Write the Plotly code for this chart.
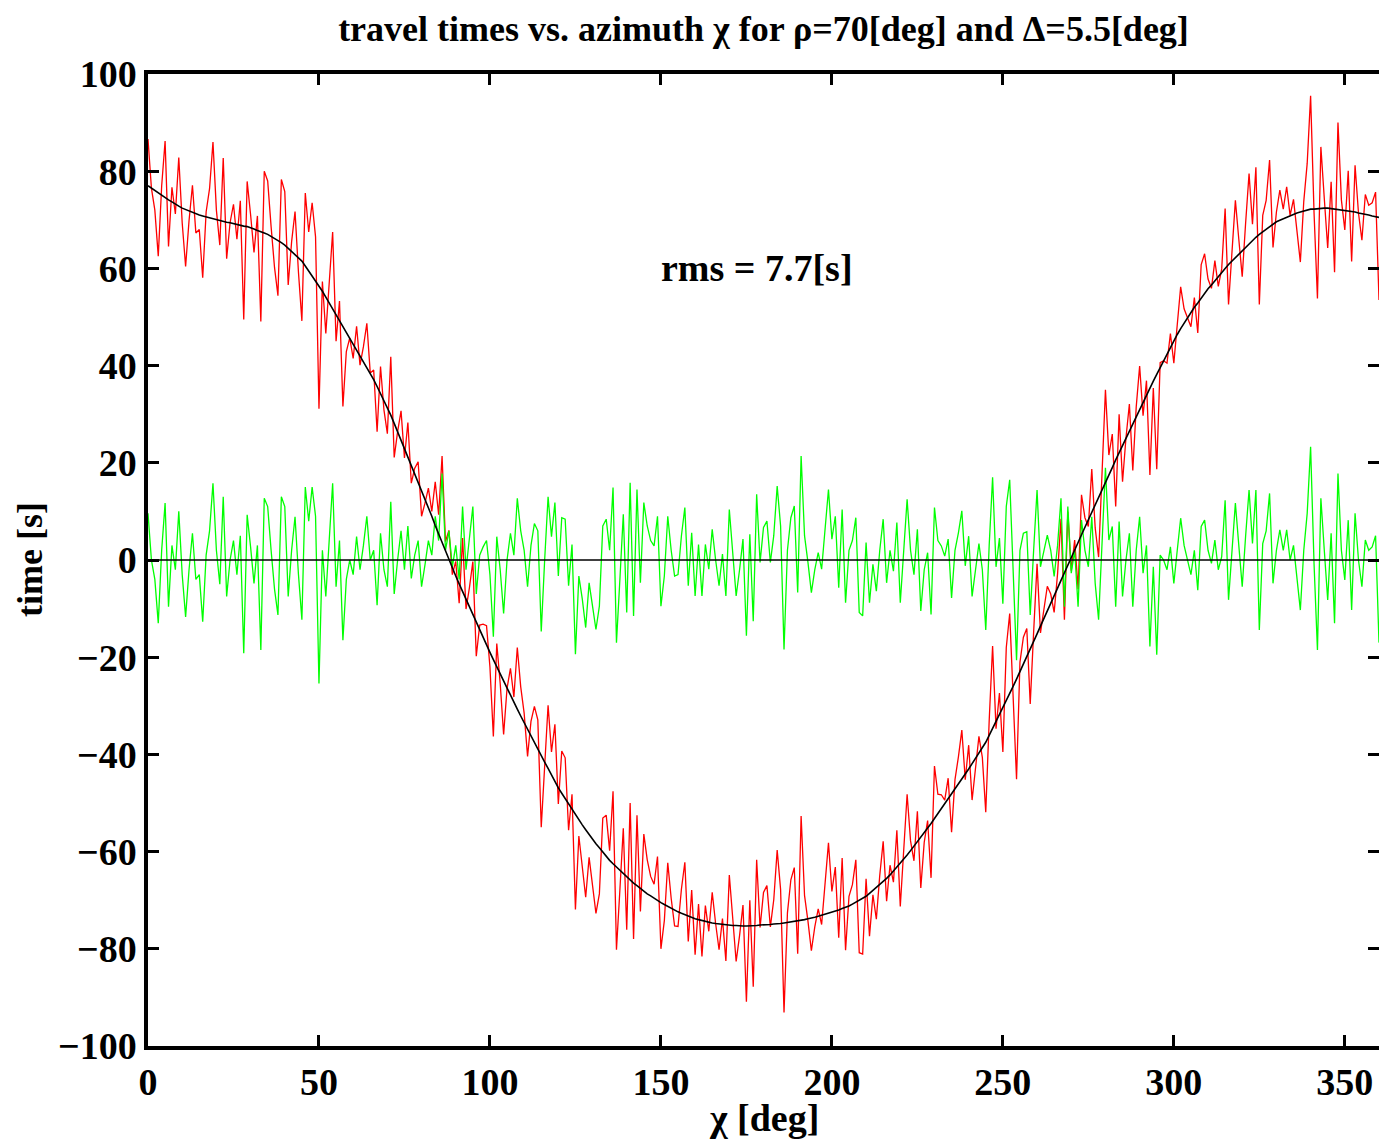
import plotly.graph_objects as go

# azimuth chi [deg], 1-degree steps 0..360
chi = list(range(0, 361))

# smooth fit (black curve), one value per degree
fit = [
    77.0, 76.5, 76.0, 75.5, 75.0, 74.5, 74.1, 73.7, 73.2, 72.8,
    72.4, 72.1, 71.8, 71.6, 71.3, 71.0, 70.8, 70.6, 70.4, 70.2,
    70.0, 69.8, 69.7, 69.5, 69.4, 69.2, 69.0, 68.9, 68.7, 68.6,
    68.4, 68.1, 67.8, 67.6, 67.3, 67.0, 66.6, 66.2, 65.7, 65.3,
    64.8, 64.1, 63.5, 62.8, 62.2, 61.5, 60.5, 59.5, 58.5, 57.5,
    56.5, 55.3, 54.1, 52.9, 51.7, 50.5, 49.3, 48.1, 46.9, 45.7,
    44.5, 43.3, 42.1, 40.9, 39.7, 38.5, 37.1, 35.7, 34.3, 32.9,
    31.5, 29.8, 28.1, 26.4, 24.7, 23.0, 21.3, 19.6, 17.9, 16.2,
    14.5, 12.7, 10.8, 9.0, 7.1, 5.3, 3.6, 1.8, 0.1, -1.6,
    -3.3, -4.9, -6.5, -8.1, -9.7, -11.3, -12.8, -14.4, -15.9, -17.5,
    -19.0, -20.5, -22.0, -23.4, -24.9, -26.4, -27.8, -29.2, -30.7, -32.1,
    -33.5, -34.9, -36.2, -37.6, -38.9, -40.3, -41.6, -42.9, -44.3, -45.6,
    -46.9, -48.0, -49.1, -50.3, -51.4, -52.5, -53.5, -54.5, -55.5, -56.5,
    -57.5, -58.4, -59.2, -60.1, -60.9, -61.8, -62.5, -63.2, -63.9, -64.6,
    -65.3, -65.9, -66.5, -67.0, -67.6, -68.2, -68.7, -69.1, -69.6, -70.0,
    -70.5, -70.9, -71.3, -71.6, -72.0, -72.4, -72.7, -73.0, -73.2, -73.5,
    -73.8, -74.0, -74.2, -74.3, -74.5, -74.7, -74.8, -74.9, -75.0, -75.1,
    -75.2, -75.2, -75.2, -75.3, -75.3, -75.3, -75.3, -75.2, -75.2, -75.1,
    -75.1, -75.0, -75.0, -74.9, -74.9, -74.8, -74.7, -74.6, -74.5, -74.4,
    -74.3, -74.1, -74.0, -73.8, -73.7, -73.5, -73.3, -73.1, -72.9, -72.7,
    -72.5, -72.2, -72.0, -71.7, -71.5, -71.2, -70.8, -70.4, -70.0, -69.6,
    -69.2, -68.6, -68.0, -67.5, -66.9, -66.3, -65.5, -64.8, -64.0, -63.3,
    -62.5, -61.6, -60.7, -59.8, -58.9, -58.0, -57.0, -56.1, -55.1, -54.2,
    -53.2, -52.2, -51.2, -50.2, -49.2, -48.2, -47.2, -46.1, -45.1, -44.0,
    -43.0, -41.9, -40.8, -39.7, -38.6, -37.5, -36.1, -34.7, -33.3, -31.9,
    -30.5, -29.0, -27.5, -26.0, -24.5, -23.0, -21.4, -19.9, -18.3, -16.8,
    -15.2, -13.6, -12.1, -10.5, -9.0, -7.4, -5.8, -4.2, -2.7, -1.1,
    0.5, 2.1, 3.6, 5.2, 6.7, 8.3, 9.8, 11.4, 12.9, 14.5,
    16.0, 17.5, 19.0, 20.6, 22.1, 23.6, 25.1, 26.6, 28.0, 29.5,
    31.0, 32.4, 33.9, 35.3, 36.8, 38.2, 39.6, 41.0, 42.5, 43.9,
    45.3, 46.4, 47.6, 48.7, 49.9, 51.0, 52.0, 52.9, 53.9, 54.8,
    55.8, 56.6, 57.5, 58.3, 59.2, 60.0, 60.8, 61.5, 62.3, 63.0,
    63.8, 64.4, 65.1, 65.7, 66.4, 67.0, 67.5, 68.0, 68.6, 69.1,
    69.6, 69.9, 70.2, 70.6, 70.9, 71.2, 71.4, 71.6, 71.8, 72.0,
    72.2, 72.2, 72.3, 72.3, 72.4, 72.4, 72.3, 72.2, 72.2, 72.1,
    72.0, 71.9, 71.7, 71.6, 71.4, 71.3, 71.1, 71.0, 70.8, 70.7,
    70.5,
]

# residuals (green curve), one value per degree
resid = [
    9.6, 0, -4, -13, 2, 11.7, -9.6, 3, -2, 10,
    -3, -11.7, -2, 5.5, -4, -3, -12.7, 1, 6, 15.8,
    2, -5, 13, -7.5, 0, 4, -3, 5, -19.2, 9.3,
    2.7, -4.8, 3, -18.5, 12.7, 11, 2, -6, -11.3, 13,
    11, -7.5, 2, 8.9, -3, -12.3, 15, 8, 15, 9,
    -25.4, 2, -7.5, 4, 15.8, -5.5, 4, -16.5, -4, 0,
    -3, 4.8, -2, 3, 9, 0, 2, -9.3, 5.5, -2,
    -5.5, 12, -7, 0, 6, -2, 7, -3.8, 1, 4,
    -5.5, -1, 4, 1, 9, 4, 17.8, 2, 6, -1.4,
    3, -4, 11, -2, 4, 11, -7, 1, 2.7, 4,
    -3, -15.8, 4.8, -2, -11, 0, 5.5, 1, 12.7, 6,
    2, -5.5, 3, 7.5, 6, -14.7, 0, 13, 4.8, 11.8,
    -3.3, 8.7, 8.4, -5.3, 3.2, -19.4, -3.3, -8, -13.9, -4.7,
    -9.5, -14.3, -9.5, 7, 8.4, 2, 14.9, -17, -4, 9.4,
    -10.8, 15.9, -11.5, 14.5, -4.7, 11.8, 7, 4, 2.9, 9,
    -9.5, -3.3, 9, 2, -3.3, -3, 5, 10.8, -5.3, 5.6,
    -7.4, 3.2, -7.4, 3.2, -1.9, 6.3, 0, -5.3, 1.2, -7.4,
    10.4, 2, -7.4, -2, 4.3, -15.6, 5.3, -12.6, 13.5, -0.5,
    6.7, 8, -0.5, 5, 15.2, 7, -18.4, 2, 8.7, 11.1,
    -6.7, 21.4, 5, -0.5, -6.7, -2, 1.5, -1.9, 6, 14.5,
    4.3, 9, -5.7, 10.4, -8.8, 2, 4, 8.7, -10.8, -11.5,
    3.6, -8.8, -0.9, -6.4, 2, 8.4, -4.7, 2, -2.3, 7.7,
    -8.8, 3, 12.5, 2, -3, 6.3, -10.5, -2, 1.5, -11.2,
    10.8, 4, 2.9, 0.8, 4.3, -7.8, 2, 5.6, 10.1, -1.2,
    4.9, -7.5, -1.4, 3.4, -2, -14.4, 3, 17, -1.4, 4.5,
    -9, 11, 16.5, -2.7, -20.6, 2, 5.5, 5.8, -11.3, 2,
    14.4, -1.4, 2, 5.1, 2, -3.4, 3, 12.7, -9.6, 11,
    -2.7, 2, -9.6, 8.2, 2, -1.4, 8.9, -4.8, -12.3, 4,
    19, 4.1, 6.9, -9.6, 7.9, -7.5, 0, 5.5, -9.6, 2,
    8.9, -2.7, 3, -17.8, -1.4, -19.5, 1, 0, -2, 2.7,
    -4.8, 2, 8.6, 3, 0, -3, 2, -6.2, 6.9, 8.2,
    2, -0.7, 4.1, -2, 0.7, 12.3, -8.2, 2, 11.7, 3,
    -5.5, 5, 14.4, 3.4, 14.4, -14.4, 3.4, 6, 13.7, -4.8,
    2, 6.2, 2, 6.2, 0, 3, -4.1, -10.3, 2, 9.6,
    23.3, -0.7, -18.5, 12.7, 2, -8.2, 5.5, -13, 17.8, 2,
    -4.1, 8.2, -10.3, 9.6, 0, -5.5, 4.1, 2, 2.7, 5,
    -17,
]

# observed travel times (red) = fit + residual
observed = [f + r for f, r in zip(fit, resid)]

x_ticks = [0, 50, 100, 150, 200, 250, 300, 350]
y_ticks = [-100, -80, -60, -40, -20, 0, 20, 40, 60, 80, 100]

title_text = "travel times vs. azimuth χ for ρ=70[deg] and Δ=5.5[deg]"
rms_text = "rms = 7.7[s]"

FONT = "Liberation Serif"

fig = go.Figure()
fig.add_trace(go.Scatter(x=chi, y=observed, mode="lines",
                         line=dict(color="#ff0000", width=1.3), showlegend=False))
fig.add_trace(go.Scatter(x=chi, y=resid, mode="lines",
                         line=dict(color="#00ff00", width=1.3), showlegend=False))
fig.add_trace(go.Scatter(x=chi, y=fit, mode="lines",
                         line=dict(color="#000000", width=1.6), showlegend=False))
fig.add_trace(go.Scatter(x=[chi[0], chi[-1]], y=[0, 0], mode="lines",
                         line=dict(color="#000000", width=1.6), showlegend=False))

axis_common = dict(
    showline=True, linewidth=3.5, linecolor="black", mirror="allticks",
    ticks="inside", ticklen=11, tickwidth=3, tickcolor="black",
    showgrid=False, zeroline=False,
    tickfont=dict(family=FONT, size=38, color="black", weight="bold"),
)

fig.update_xaxes(range=[0, 360], tickvals=x_ticks, **axis_common)
fig.update_yaxes(range=[-100, 100], tickvals=y_ticks, **axis_common)

W, H = 1379, 1134
fig.update_layout(
    width=W, height=H,
    margin=dict(l=140, r=4, t=66, b=96),
    paper_bgcolor="white", plot_bgcolor="white",
    title=dict(text=title_text, x=0.5, xref="paper", y=1 - 20 / H, yanchor="middle",
               font=dict(family=FONT, size=36, color="black", weight="bold")),
    annotations=[
        dict(text=rms_text, x=178, y=60, xref="x", yref="y", showarrow=False,
             font=dict(family=FONT, size=38, color="black", weight="bold")),
        dict(text="time [s]", x=0, y=0.5, xref="paper", yref="paper",
             xshift=-118, textangle=-90, showarrow=False,
             xanchor="center", yanchor="middle",
             font=dict(family=FONT, size=36, color="black", weight="bold")),
        dict(text="χ [deg]", x=0.5, y=0, xref="paper", yref="paper",
             yshift=-72, showarrow=False, xanchor="center", yanchor="middle",
             font=dict(family=FONT, size=38, color="black", weight="bold")),
    ],
)

fig.write_html("out.html")
